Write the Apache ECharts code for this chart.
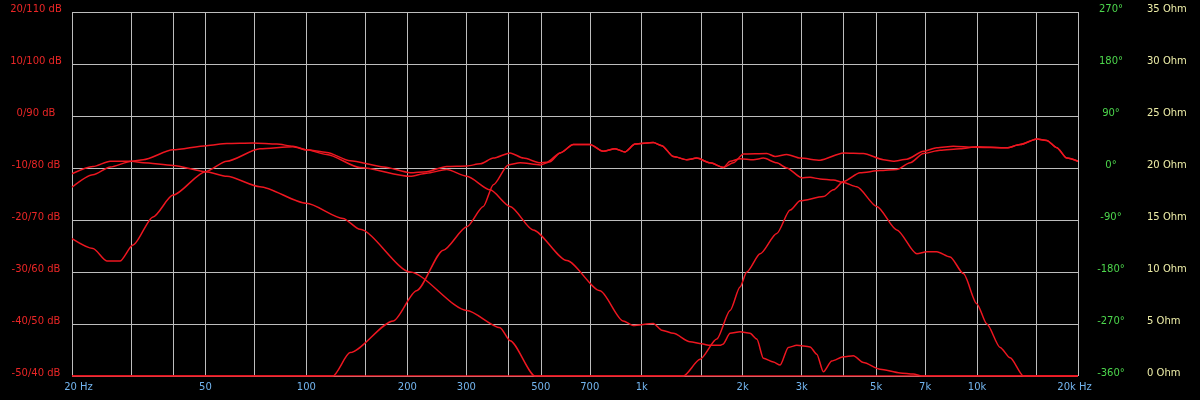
<!DOCTYPE html>
<html>
<head>
<meta charset="utf-8">
<script src="https://cdn.jsdelivr.net/npm/echarts@6/dist/echarts.min.js"></script>
<style>
html,body{margin:0;padding:0;background:#000;}
#chart{width:1200px;height:400px;}
</style>
</head>
<body>
<div id="chart"></div>
<script>
// ---- Data (frequency in Hz, level in dB) ----
const freqLabelValues = [20,50,100,200,300,500,700,1000,2000,3000,5000,7000,10000,20000];
const freqLabelTexts  = ['20 Hz','50','100','200','300','500','700','1k','2k','3k','5k','7k','10k','20k Hz'];
const freqGridValues  = [20,30,40,50,70,100,150,200,300,400,500,700,1000,1500,2000,3000,4000,5000,7000,10000,15000,20000];

const systemFreq = [20,23.1,26,30.1,32.6,40,50.4,57.9,69.3,81.6,91.2,100,115,135,170,204,228,262,301,330,361,405,444,498,521,571,625,701,767,833,892,955,1083,1148,1243,1363,1459,1599,1752,1877,2009,2360,2499,2706,2968,3404,3994,4582,5257,5630,6172,6920,7584,8498,9752,12268,13438,15076,16144,17292,18518,20000];
const systemDb   = [-11.1,-9.7,-8.7,-8.7,-8.4,-6.5,-5.7,-5.3,-5.2,-5.4,-5.8,-6.5,-7.0,-8.6,-9.8,-10.9,-10.7,-9.7,-9.6,-9.2,-8.1,-7.1,-8.1,-9.0,-8.9,-7.1,-5.5,-5.5,-6.8,-6.3,-6.9,-5.4,-5.1,-5.7,-7.8,-8.4,-8.1,-9.0,-9.9,-9.0,-7.3,-7.2,-7.8,-7.4,-8.1,-8.5,-7.1,-7.2,-8.4,-8.7,-8.3,-6.8,-6.1,-5.8,-6.0,-6.1,-5.5,-4.4,-4.7,-6.1,-8.1,-8.7];

const wooferFreq = [20,23.1,25.4,27.8,30.4,34.9,40,50,57.9,72.7,91.2,100,115,144.5,204,228,262,301,353,405,474,598,751,880,942,1083,1148,1243,1393,1510,1581,1712,1745,1835,1964,2104,2204,2306,2470,2586,2737,2900,3177,3326,3481,3688,3994,4278,4582,5138,5894,6458,6842,20000];
const wooferDb   = [-23.6,-25.5,-27.9,-27.9,-24.8,-19.4,-15.2,-10.7,-8.7,-6.3,-5.9,-6.5,-7.4,-9.9,-11.6,-11.0,-10.3,-11.6,-14.2,-17.4,-21.9,-27.8,-33.6,-39.4,-40.3,-39.9,-41.2,-41.8,-43.4,-43.8,-44.1,-44.1,-43.9,-41.8,-41.5,-41.8,-42.9,-46.6,-47.3,-47.9,-44.5,-44.1,-44.4,-45.8,-49.2,-47.1,-46.3,-46.1,-47.4,-48.7,-49.4,-49.6,-50,-50];

const lowFreq = [20,23.1,26,30.1,32.6,40,50,57.9,72.7,100,128.6,144.5,204,301,378,405,481,20000];
const lowDb   = [-13.7,-11.3,-9.8,-8.7,-9.0,-9.5,-10.7,-11.6,-13.6,-16.8,-19.7,-21.8,-30.0,-37.4,-40.7,-43.2,-50,-50];

const midFreq = [20,120,135,181.6,213,256,301,337,361,400,434,498,533,571,625,701,767,833,892,955,1083,1148,1243,1363,1459,1599,1752,1835,1964,2152,2306,2528,2706,3002,3177,3404,3729,3994,4378,5022,5764,6612,7084,7586,8313,9107,9981,10696,11716,12549,13751,20000];
const midDb   = [-50,-50,-45.5,-39.4,-33.6,-25.8,-21.3,-17.4,-13.2,-9.4,-9.0,-9.4,-8.8,-7.1,-5.5,-5.5,-6.8,-6.3,-6.9,-5.4,-5.1,-5.7,-7.8,-8.4,-8.1,-9.0,-9.9,-8.7,-8.2,-8.4,-8.1,-9.0,-10.0,-11.9,-11.8,-12.1,-12.3,-12.8,-13.6,-17.4,-21.9,-26.5,-26.1,-26.1,-27.1,-30.3,-36.1,-40.0,-44.5,-46.5,-50,-50];

const tweeterFreq = [20,1331,1493,1674,1835,1964,2057,2255,2528,2770,2968,3481,3729,3994,4478,5138,5764,6315,6920,7761,8903,9981,12268,13438,15076,16144,17292,18518,20000];
const tweeterDb   = [-50,-50,-46.8,-42.9,-37.4,-32.9,-30.0,-26.5,-22.6,-18.1,-16.3,-15.5,-14.2,-12.6,-10.9,-10.5,-10.3,-9.0,-7.2,-6.6,-6.3,-5.9,-6.1,-5.5,-4.4,-4.7,-6.1,-8.1,-8.7];

// ---- Build ----
const lg = Math.log10;
function pts(f, d){ return f.map((v,i)=>[lg(v), d[i]]); }
const LINE = '#ee1620';
function curve(name, f, d){
  return { name, type:'line', data: pts(f,d), showSymbol:false, symbol:'none',
    smooth:0.25, smoothMonotone:'x', lineStyle:{color:LINE, width:1.5}, itemStyle:{color:LINE},
    clip:true, animation:false, z:3 };
}
const FONT = 'DejaVu Sans';
function raised(color){
  return { p:{ color:color, fontFamily:FONT, fontSize:10, padding:[0,0,6,0] } };
}
const chart = echarts.init(document.getElementById('chart'), null, {renderer:'canvas'});
chart.setOption({
  backgroundColor:'#000',
  animation:false,
  grid:{left:72, right:122, top:12, bottom:24, containLabel:false},
  xAxis:{
    type:'value', min:lg(20), max:lg(20000),
    axisLine:{show:false}, axisTick:{show:false, customValues: freqGridValues.map(lg)},
    splitLine:{show:true, lineStyle:{color:'#bdbdbd', width:1}},
    axisLabel:{
      customValues: freqLabelValues.map(lg), margin:6,
      color:'#72b4ee', fontFamily:FONT, fontSize:10,
      formatter:function(v){
        let i = freqLabelValues.findIndex(f=>Math.abs(lg(f)-v)<1e-6);
        if(i<0) return '';
        if(i===0) return '{a|'+freqLabelTexts[i]+'}';
        if(i===freqLabelTexts.length-1) return '{b|'+freqLabelTexts[i]+'}';
        return freqLabelTexts[i];
      },
      rich:{
        a:{color:'#72b4ee', fontFamily:FONT, fontSize:10, padding:[0,0,0,13]},
        b:{color:'#72b4ee', fontFamily:FONT, fontSize:10, padding:[0,7,0,0]}
      }
    }
  },
  yAxis:[
    { type:'value', min:-50, max:20, interval:10, position:'left',
      axisLine:{show:false}, axisTick:{show:false},
      splitLine:{show:true, lineStyle:{color:'#bdbdbd', width:1}},
      axisLabel:{ margin:36, align:'center', color:'#ea2626', fontFamily:FONT, fontSize:10,
        rich: raised('#ea2626'),
        formatter:function(v){ return '{p|' + v + '/' + (v+90) + ' dB}'; } } },
    { type:'value', min:-360, max:270, interval:90, position:'right',
      axisLine:{show:false}, axisTick:{show:false}, splitLine:{show:false},
      axisLabel:{ margin:33, align:'center', color:'#4cd64c', fontFamily:FONT, fontSize:10,
        rich: raised('#4cd64c'),
        formatter:function(v){ return '{p|' + v + '°}'; } } },
    { type:'value', min:0, max:35, interval:5, position:'right',
      axisLine:{show:false}, axisTick:{show:false}, splitLine:{show:false},
      axisLabel:{ margin:69, align:'left', color:'#eeeea8', fontFamily:FONT, fontSize:10,
        rich: raised('#eeeea8'),
        formatter:function(v){ return '{p|' + v + ' Ohm}'; } } }
  ],
  series:[
    curve('System', systemFreq, systemDb),
    curve('Woofer', wooferFreq, wooferDb),
    curve('Low', lowFreq, lowDb),
    curve('Mid', midFreq, midDb),
    curve('Tweeter', tweeterFreq, tweeterDb)
  ]
});
</script>
</body>
</html>
